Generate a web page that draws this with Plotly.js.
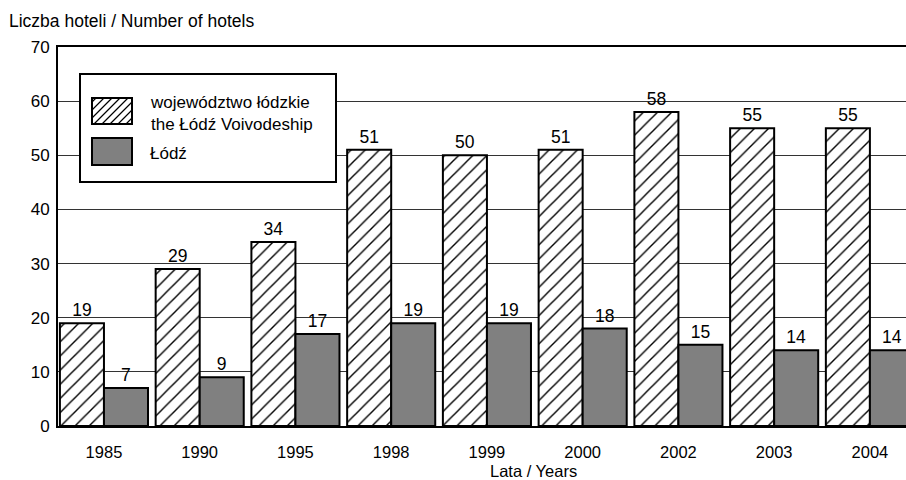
<!DOCTYPE html>
<html>
<head>
<meta charset="utf-8">
<script src="https://cdn.plot.ly/plotly-3.0.1.min.js"></script>
<style>html,body{margin:0;padding:0;overflow:hidden;background:#fff}</style>
</head>
<body>
<div id="chart" style="width:906px;height:480px"></div>
<script>
const years = ['1985','1990','1995','1998','1999','2000','2002','2003','2004'];
const voivodeship = [19, 29, 34, 51, 50, 51, 58, 55, 55];
const lodz = [7, 9, 17, 19, 19, 18, 15, 14, 14];
const seriesNames = ['województwo łódzkie<br>the Łódź Voivodeship', 'Łódź'];
const yTicks = [0, 10, 20, 30, 40, 50, 60, 70];
const xTitle = 'Lata / Years';
const yTitle = 'Liczba hoteli / Number of hotels';

const FONT = 'Liberation Sans, Arial, sans-serif';
const W = 906, H = 480;
const M = {l: 58, r: 0, t: 47, b: 54};
const PW = W - M.l - M.r, PH = H - M.t - M.b;
const px = x => (x - M.l) / PW;
const py = y => (H - M.b - y) / PH;

const traces = [
  {
    type: 'bar', x: years, y: voivodeship, name: seriesNames[0],
    text: voivodeship.map(String), textposition: 'outside', cliponaxis: false,
    textfont: {family: FONT, size: 17.5, color: '#000'},
    marker: {color: '#fff', line: {color: '#000', width: 2},
      pattern: {shape: '/', fgcolor: '#000', bgcolor: '#fff', size: 10, solidity: 0.14}}
  },
  {
    type: 'bar', x: years, y: lodz, name: seriesNames[1],
    text: lodz.map(String), textposition: 'outside', cliponaxis: false,
    textfont: {family: FONT, size: 17.5, color: '#000'},
    marker: {color: '#808080', line: {color: '#000', width: 2}}
  }
];

// legend drawn manually (large swatches)
const box = {x0: 80, x1: 336, y0: 74, y1: 182};
const sw1 = {x0: 92, x1: 132, y0: 98, y1: 124};
const sw2 = {x0: 92, x1: 132, y0: 138, y1: 165};
let hatch = '';
for (let s = sw1.x0 + sw1.y0 + 4; s < sw1.x1 + sw1.y1; s += 8) {
  const xa = Math.max(sw1.x0, s - sw1.y1), xb = Math.min(sw1.x1, s - sw1.y0);
  if (xb > xa) hatch += `M${px(xa)},${py(s - xa)}L${px(xb)},${py(s - xb)}`;
}
const rect = (r, fill, w) => ({type: 'rect', xref: 'paper', yref: 'paper',
  x0: px(r.x0), x1: px(r.x1), y0: py(r.y1), y1: py(r.y0),
  fillcolor: fill, line: {color: '#000', width: w}, layer: 'above'});

const shapes = [
  rect(box, '#fff', 2),
  rect(sw1, '#fff', 2),
  {type: 'path', xref: 'paper', yref: 'paper', path: hatch, line: {color: '#000', width: 1.2}, layer: 'above'},
  rect(sw1, 'rgba(0,0,0,0)', 2),
  rect(sw2, '#808080', 2)
];

const annotations = [
  {xref: 'paper', yref: 'paper', x: px(148), y: py(113), xanchor: 'left', yanchor: 'middle',
   text: seriesNames[0], showarrow: false, align: 'left',
   font: {family: FONT, size: 17, color: '#000'}},
  {xref: 'paper', yref: 'paper', x: px(148), y: py(153), xanchor: 'left', yanchor: 'middle',
   text: seriesNames[1], showarrow: false, align: 'left',
   font: {family: FONT, size: 17, color: '#000'}},
  {xref: 'paper', yref: 'paper', x: px(533), y: py(471), xanchor: 'center', yanchor: 'middle',
   text: xTitle, showarrow: false, font: {family: FONT, size: 16.5, color: '#000'}}
];

const layout = {
  width: W, height: H,
  margin: M,
  paper_bgcolor: '#fff', plot_bgcolor: '#fff',
  font: {family: FONT, color: '#000', size: 17},
  title: {text: yTitle, x: 9 / W, xanchor: 'left', xref: 'container',
    y: 1 - 21 / H, yanchor: 'middle', yref: 'container', font: {family: FONT, size: 17.5, color: '#000'}},
  showlegend: false,
  barmode: 'group', bargap: 0.08, bargroupgap: 0,
  xaxis: {
    type: 'category', range: [-0.48, 8.377], fixedrange: true,
    showline: true, linecolor: '#000', linewidth: 2, mirror: true,
    showgrid: false, ticks: '', ticklabelstandoff: 10,
    tickfont: {family: FONT, size: 16.5, color: '#000'}
  },
  yaxis: {
    range: [0, 70], tickvals: yTicks, ticktext: yTicks.map(String),
    showline: true, linecolor: '#000', linewidth: 2, mirror: false,
    showgrid: true, gridcolor: '#333', gridwidth: 1, zeroline: false,
    ticks: '', ticklabelstandoff: 3,
    tickfont: {family: FONT, size: 17, color: '#000'}
  },
  shapes: shapes,
  annotations: annotations
};

Plotly.newPlot('chart', traces, layout, {displayModeBar: false, staticPlot: true});
</script>
</body>
</html>
